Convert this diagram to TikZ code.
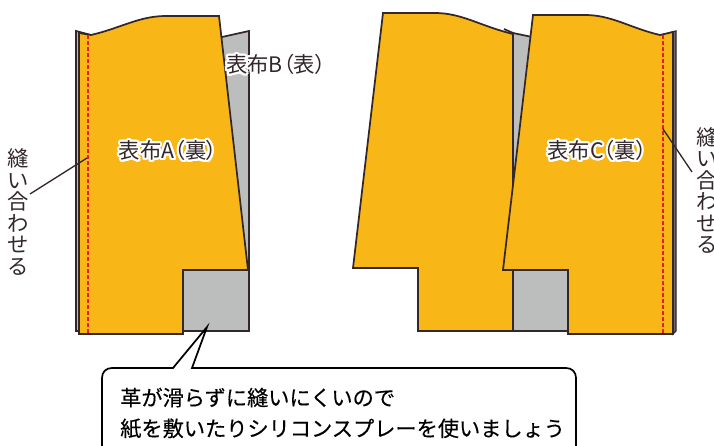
\documentclass[tikz,border=0pt]{standalone}
\usepackage{fontspec}
\usepackage[copies]{contour}
\setmainfont{Noto Sans CJK JP}
\newfontfamily\lblfont{Noto Sans CJK JP}[RawFeature=+palt]
\newfontfamily\notefont{Noto Sans CJK JP}[FakeBold=0.25]
\contourlength{1.6pt}
\contournumber{24}
\definecolor{ink}{RGB}{51,39,42}
\definecolor{cloth}{RGB}{248,182,23}
\definecolor{liner}{RGB}{188,190,189}
\definecolor{edge}{RGB}{110,106,106}
\definecolor{seam}{RGB}{230,30,40}
\tikzset{
  piece/.style={draw=ink,line width=1.3pt,line join=miter,fill=cloth},
  backpiece/.style={draw=ink,line width=1.3pt,line join=miter,fill=liner},
  strip/.style={draw=ink,line width=1pt,fill=edge},
  stitch/.style={draw=seam,line width=1pt,dash pattern=on 3pt off 1.5pt},
  leader/.style={draw=ink,line width=1pt},
  label/.style={inner sep=0.75pt,text=ink,font=\lblfont\fontsize{16}{19}\selectfont},
  sidelabel/.style={inner sep=0.75pt,text=ink,align=center,font=\fontsize{16}{16.1}\selectfont},
  note/.style={inner sep=0.75pt,anchor=west,text=black,font=\notefont\fontsize{15.9}{19}\selectfont}
}
\begin{document}
\begin{tikzpicture}[x=0.75pt,y=0.75pt,yscale=-1]
\useasboundingbox (0,0) rectangle (714,446);
\clip (0,0) rectangle (714,446);

%Shape: left back piece
\draw [backpiece] (76,31) -- (91,35) -- (222,37) -- (249,31) -- (249,331) -- (76,331) -- cycle ;
%Shape: left front piece
\draw [piece] (79,33) -- (91,35) .. controls (121,28) and (139,16) .. (166,16) -- (219,16) -- (248,270) -- (183,270) -- (183,334) -- (79,334) -- cycle ;
%Straight Lines: left seam
\draw [stitch] (88,35) -- (88,334) ;

%Shape: right back piece
\draw [backpiece] (513,33) -- (532,37) -- (540,270) -- (568,270) -- (568,331) -- (513,331) -- cycle ;
\draw [line width=1.3pt,draw=ink] (504,29) -- (513,33) ;
%Shape: middle front piece
\draw [piece] (383,13) -- (435,13) .. controls (462,13) and (480,26) .. (513,34) -- (513,331) -- (418,331) -- (418,268) -- (353,268) -- cycle ;
%Shape: right strip
\draw [strip] (662,35) -- (676,31) -- (676,331) -- (673,334) -- cycle ;
%Shape: right front piece
\draw [piece] (533,15) -- (585,15) .. controls (612,15) and (630,28) .. (660,35) -- (673,32) -- (673,334) -- (568,334) -- (568,270) -- (503,270) -- cycle ;
%Straight Lines: right seam
\draw [stitch] (663,35) -- (663,334) ;

% Leader lines
\coordinate (seamL) at (87,158);
\coordinate (seamR) at (663,129);
\coordinate (tailL) at (30,194);
\coordinate (tailR) at (692,172);
\draw [leader] (seamL) -- (tailL) ;
\draw [leader] (seamR) -- (tailR) ;

% Callout
\coordinate (tip) at (207,327);
\draw [line width=1.3pt,fill=white] (102,460) -- (102,378) .. controls (102,372) and (106,368) .. (112,368) -- (173,368) -- (tip) -- (192,368) -- (566,368) .. controls (572,368) and (576,372) .. (576,378) -- (576,460) ;

% Text Node
\node (lblB) [label] at (276,65.5) {\contour{white}{表布B（表）}};
% Text Node
\node (lblA) [label] at (168,151.5) {\contour{white}{表布A（裏）}};
% Text Node
\node (lblC) [label] at (597,151.5) {\contour{white}{表布C（裏）}};
% Text Node
\node (sewL) [sidelabel] at (18,212) {縫\\い\\合\\わ\\せ\\る};
% Text Node
\node (sewR) [sidelabel] at (707,190.5) {縫\\い\\合\\わ\\せ\\る};
% Text Node
\node (noteA) [note] at (119,397.5) {革が滑らずに縫いにくいので};
% Text Node
\node (noteB) [note] at (119,428.5) {紙を敷いたりシリコンスプレーを使いましょう};

\end{tikzpicture}
\end{document}
